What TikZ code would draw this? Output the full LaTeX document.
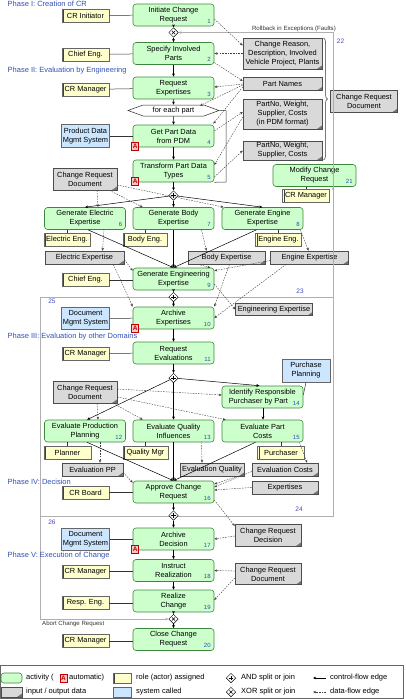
\documentclass[tikz,border=0pt]{standalone}
\usepackage{fontspec}
\setmainfont{Liberation Sans}
\usetikzlibrary{arrows.meta,calc,shapes.geometric,shapes.symbols,decorations.pathreplacing}
\definecolor{actfill}{RGB}{204,255,204}
\definecolor{actdraw}{RGB}{60,135,60}
\definecolor{rolefill}{RGB}{255,255,204}
\definecolor{sysfill}{RGB}{204,230,255}
\definecolor{datafill}{RGB}{217,217,217}
\definecolor{numcol}{RGB}{40,80,170}
\definecolor{phasecol}{RGB}{50,80,180}
\definecolor{regcol}{RGB}{70,70,190}
\definecolor{regline}{RGB}{175,175,175}
\tikzset{
 nbase/.style={font=\fontsize{7.4}{9}\selectfont, align=center, inner sep=1pt},
 act/.style={nbase, draw=actdraw, fill=actfill, rounded corners=3pt, minimum width=81pt, minimum height=22pt, line width=0.6pt},
 role/.style={nbase, draw=black!60, fill=rolefill, minimum width=47pt, minimum height=13pt, line width=0.5pt,
   path picture={\draw[black!75,line width=0.8pt] ([xshift=1.6pt]path picture bounding box.south west) -- ([xshift=1.6pt]path picture bounding box.north west);}},
 sys/.style={nbase, draw=black!60, fill=sysfill, minimum width=48pt, minimum height=22pt, line width=0.5pt},
 datab/.style={nbase, draw=black!70, fill=datafill, minimum width=79pt, minimum height=13pt, line width=0.5pt,
   path picture={\fill[black!55] ([xshift=-5pt]path picture bounding box.south east) -- (path picture bounding box.south east) -- ([yshift=3.5pt]path picture bounding box.south east) -- cycle;}},
 num/.style={font=\fontsize{6}{6}\selectfont, text=numcol, inner sep=0.5pt, anchor=south east},
 amark/.style={draw=red!75!black, fill=red!22, text=red!75!black, font=\fontsize{6.5}{6.5}\selectfont\bfseries, inner sep=0pt, minimum width=7pt, minimum height=8pt, line width=0.5pt},
 gw/.style={diamond, draw=black, fill=white, minimum width=9.5pt, minimum height=9.5pt, inner sep=0pt, line width=0.5pt},
 andgw/.style={gw, path picture={\draw[line width=0.5pt] ([xshift=-2.2pt]path picture bounding box.center) -- ([xshift=2.2pt]path picture bounding box.center) ([yshift=-2.2pt]path picture bounding box.center) -- ([yshift=2.2pt]path picture bounding box.center);}},
 xorgw/.style={gw, path picture={\draw[line width=0.5pt] ([xshift=-1.6pt,yshift=-1.6pt]path picture bounding box.center) -- ([xshift=1.6pt,yshift=1.6pt]path picture bounding box.center) ([xshift=-1.6pt,yshift=1.6pt]path picture bounding box.center) -- ([xshift=1.6pt,yshift=-1.6pt]path picture bounding box.center);}},
 cf/.style={draw=black, line width=0.5pt, -{Stealth[length=3.2pt,width=2.8pt]}},
 df/.style={draw=black!75, line width=0.4pt, dash pattern=on 1.6pt off 1.1pt, -{Stealth[length=3pt,width=2.5pt]}},
 ln/.style={draw=black!80, line width=0.5pt},
 reg/.style={draw=regline, line width=0.6pt},
 regarrow/.style={reg, -{Stealth[length=3.2pt,width=2.8pt]}},
 phaselab/.style={font=\fontsize{7.5}{8}\selectfont, text=phasecol, anchor=west, inner sep=0pt},
 reglab/.style={font=\fontsize{6.5}{6.5}\selectfont, text=regcol, inner sep=0pt},
 smalltxt/.style={font=\fontsize{6.1}{6.5}\selectfont, text=black!80, inner sep=0pt},
 legtxt/.style={font=\fontsize{7.5}{8}\selectfont, anchor=west, inner sep=0pt},
}
\newcommand\actnum[2]{\node[num] (n#2) at ($(#1.south east)+(-3,-2.5)$) {#2};}
\newcommand\automark[1]{\node[amark] (A#1) at ($(#1.south west)+(2.5,-1.5)$) {A};}
\begin{document}
\begin{tikzpicture}[x=1pt,y=-1pt]
\useasboundingbox (0,0) rectangle (406,699);

% region boundaries
\draw[reg] (40,297) -- (333,297);
\draw[reg] (333,297) -- (333,516) -- (40,516);
\draw[reg] (40,297) -- (40,619);

% phase labels
\node[phaselab] (ph1) at (7.5,3.5) {Phase I: Creation of CR};
\node[phaselab] (ph2) at (7.5,71) {Phase II: Evaluation by Engineering};
\node[phaselab] (ph3) at (7.5,336.5) {Phase III: Evaluation by other Domains};
\node[phaselab] (ph4) at (7.5,481.5) {Phase IV: Decision};
\node[phaselab] (ph5) at (7.5,556) {Phase V: Execution of Change};

% region labels
\node[reglab] (g22) at (340.5,41.5) {22};
\node[reglab] (g23) at (300,291) {23};
\node[reglab] (g25) at (52,301) {25};
\node[reglab] (g24) at (299,509) {24};
\node[reglab] (g26) at (52,522) {26};
\node[smalltxt, anchor=base east] (rbtxt) at (336,30.5) {Rollback in Exceptions (Faults)};
\node[smalltxt, anchor=north west] (abtxt) at (42,620.5) {Abort Change Request};

% activities
\node[act] (a1) at (173.5,15) {Initiate Change\\Request}; \actnum{a1}{1}
\node[xorgw] (xor1) at (173.5,32.5) {};
\node[act] (a2) at (173.5,53.5) {Specify Involved\\Parts}; \actnum{a2}{2}
\node[act] (a3) at (173.5,88) {Request\\Expertises}; \actnum{a3}{3}
\node[signal, signal to=west and east, signal pointer angle=40, draw=black!85, fill=white, line width=0.5pt,
      minimum width=91pt, minimum height=11pt, inner sep=0pt, font=\fontsize{7.4}{8}\selectfont] (loop) at (173.5,110.5) {for each part};
\node[act] (a4) at (173.5,136) {Get Part Data\\from PDM}; \actnum{a4}{4} \automark{a4}
\node[act] (a5) at (173.5,171) {Transform Part Data\\Types}; \actnum{a5}{5} \automark{a5}
\node[andgw] (and1) at (173.5,195.5) {};
\node[act] (a6) at (85,218.5) {Generate Electric\\Expertise}; \actnum{a6}{6}
\node[act] (a7) at (173.5,218.5) {Generate Body\\Expertise}; \actnum{a7}{7}
\node[act] (a8) at (262.5,218.5) {Generate Engine\\Expertise}; \actnum{a8}{8}
\node[act] (a9) at (173.5,279) {Generate Engineering\\Expertise}; \actnum{a9}{9}
\node[andgw] (and2) at (173.5,297) {};
\node[act] (a10) at (173.5,318) {Archive\\Expertises}; \actnum{a10}{10} \automark{a10}
\node[act] (a11) at (173.5,353) {Request\\Evaluations}; \actnum{a11}{11}
\node[andgw] (and3) at (173.5,378) {};
\node[act] (a14) at (262.5,397) {Identify Responsible\\Purchaser by Part\phantom{00}}; \actnum{a14}{14}
\node[act] (a12) at (85,431) {Evaluate Production\\Planning}; \actnum{a12}{12}
\node[act] (a13) at (173.5,431) {Evaluate Quality\\Influences}; \actnum{a13}{13}
\node[act] (a15) at (262.5,431) {Evaluate Part\\Costs}; \actnum{a15}{15}
\node[act] (a16) at (173.5,492) {Approve Change\\Request}; \actnum{a16}{16}
\node[andgw] (and4) at (173.5,515.5) {};
\node[act] (a17) at (173.5,539) {Archive\\Decision}; \actnum{a17}{17} \automark{a17}
\node[act] (a18) at (173.5,570.5) {Instruct\\Realization}; \actnum{a18}{18}
\node[act] (a19) at (173.5,601) {Realize\\Change}; \actnum{a19}{19}
\node[xorgw] (xor2) at (173.5,619) {};
\node[act] (a20) at (173.5,639.5) {Close Change\\Request}; \actnum{a20}{20}
\node[act, minimum width=83pt] (a21) at (314.5,175.5) {Modify Change\\Request}; \actnum{a21}{21}

% roles and systems
\node[role] (r1) at (85.5,15.5) {CR Initiator};
\node[role] (r2) at (85.5,54.5) {Chief Eng.};
\node[role] (r3) at (85.5,89.5) {CR Manager};
\node[sys, minimum height=23pt] (s4) at (85.5,136) {Product Data\\Mgmt System};
\node[role, minimum width=46pt] (r6) at (67,239.5) {Electric Eng.};
\node[role, minimum width=44pt] (r7) at (145,239.5) {Body Eng.};
\node[role, minimum width=46pt] (r8) at (278.5,239.5) {Engine Eng.};
\node[role] (r9) at (85.5,280) {Chief Eng.};
\node[sys] (s10) at (85.5,318.5) {Document\\Mgmt System};
\node[role] (r11) at (85.5,353.5) {CR Manager};
\node[sys, minimum height=23pt] (s14) at (306,370.5) {Purchase\\Planning};
\node[role] (r12) at (67.5,453) {Planner};
\node[role, minimum width=45pt] (r13) at (145.5,453) {Quality Mgr};
\node[role] (r15) at (281,453) {Purchaser};
\node[role] (r16) at (85.5,492.5) {CR Board};
\node[sys] (s17) at (85.5,539) {Document\\Mgmt System};
\node[role] (r18) at (85.5,571.5) {CR Manager};
\node[role] (r19) at (85.5,603) {Resp. Eng.};
\node[role] (r20) at (85.5,641) {CR Manager};
\node[role] (r21) at (306,195.5) {CR Manager};

% data objects
\node[datab, minimum height=31pt] (d1) at (282.5,53.5) {Change Reason,\\Description, Involved\\Vehicle Project, Plants};
\node[datab] (d2) at (282.5,84) {Part Names};
\node[datab, minimum height=30pt] (d3) at (282.5,114) {PartNo, Weight,\\Supplier, Costs\\(in PDM format)};
\node[datab, minimum height=19pt] (d4) at (282.5,150.5) {PartNo, Weight,\\Supplier, Costs};
\node[datab, minimum width=67pt, minimum height=22pt] (d5) at (364,101) {Change Request\\Document};
\node[datab, minimum width=64pt, minimum height=22pt] (d6) at (85,179) {Change Request\\Document};
\node[datab] (d7) at (84.5,257.5) {Electric Expertise};
\node[datab, minimum width=77pt] (d8) at (226.5,257.5) {Body Expertise};
\node[datab, minimum width=78pt] (d9) at (309.5,257.5) {Engine Expertise};
\node[datab, minimum width=77pt, minimum height=12pt] (d10) at (274,309.5) {Engineering Expertise};
\node[datab, minimum width=64pt, minimum height=22pt] (d11) at (85,392) {Change Request\\Document};
\node[datab, minimum width=61pt] (d12) at (92.5,469.5) {Evaluation PP};
\node[datab, minimum width=64pt] (d13) at (212,469.5) {Evaluation Quality};
\node[datab, minimum width=66pt] (d14) at (285,469.5) {Evaluation Costs};
\node[datab, minimum width=66pt] (d15) at (285,487.5) {Expertises};
\node[datab, minimum width=66pt, minimum height=22pt] (d16) at (268,535) {Change Request\\Decision};
\node[datab, minimum width=66pt, minimum height=21pt] (d17) at (268,574) {Change Request\\Document};

% brace
\draw[black!80, line width=0.5pt, decorate, decoration={brace, amplitude=4pt}] (323.5,38) -- (323.5,160);

% region flow arrows
\draw[regarrow] (333,297) -- (333,187);
\draw[regarrow] (333,190) -- (333,32.5) -- (xor1.east);
\draw[regarrow] (40,619) -- (xor2.west);

% control flow
\draw[cf] (a1) -- (xor1);
\draw[cf] (xor1) -- (a2);
\draw[cf] (a2) -- (a3);
\draw[cf] (a3) -- (loop);
\draw[cf] (loop) -- (a4);
\draw[cf] (a4) -- (a5);
\draw[cf] (a5) -- (and1);
\draw[cf] (and1) -- (a6.north);
\draw[cf] (and1) -- (a7);
\draw[cf] (and1) -- (a8.north);
\draw[cf] ($(a6.south)+(3,0)$) -- (a9.north);
\draw[cf] (a7) -- (a9);
\draw[cf] ($(a8.south)+(-6,0)$) -- (a9.north);
\draw[cf] (a9) -- (and2);
\draw[cf] (and2) -- (a10);
\draw[cf] (a10) -- (a11);
\draw[cf] (a11) -- (and3);
\draw[cf] (and3) -- ($(a12.north)+(2,0)$);
\draw[cf] (and3) -- (a13);
\draw[cf] (and3) -- ($(a14.north)+(-3,0)$);
\draw[cf] ($(a14.south)+(0.5,0)$) -- ($(a15.north)+(0.5,0)$);
\draw[cf] ($(a12.south)+(2,0)$) -- (a16.north);
\draw[cf] (a13) -- (a16);
\draw[cf] ($(a15.south)+(-7,0)$) -- (a16.north);
\draw[cf] (a16) -- (and4);
\draw[cf] (and4) -- (a17);
\draw[cf] (a17) -- (a18);
\draw[cf] (a18) -- (a19);
\draw[cf] (a19) -- (xor2);
\draw[cf] (xor2) -- (a20);

% loop bracket
\draw[ln] (a5.south east) -- (226,182) -- (226,110.5) -- (loop.east);

% role / system links
\draw[ln] (r1) -- (a1);
\draw[ln] (r2) -- (a2);
\draw[ln] (r3) -- (a3);
\draw[ln] (s4) -- (a4);
\draw[ln] (r6.north) -- (r6.north |- a6.south);
\draw[ln] (r7.north) -- (r7.north |- a7.south);
\draw[ln] (r8.north) -- (r8.north |- a8.south);
\draw[ln] (r9) -- (r9 -| a9.west);
\draw[ln] (s10) -- (a10);
\draw[ln] (r11) -- (a11);
\draw[ln] (s14.south) -- ($(a14.east)+(0,-2)$);
\draw[ln] (r12.north) -- (r12.north |- a12.south);
\draw[ln] (r13.north) -- (r13.north |- a13.south);
\draw[ln] (r15.north) -- (r15.north |- a15.south);
\draw[ln] (r16) -- (r16 -| a16.west);
\draw[ln] (s17) -- (a17);
\draw[ln] (r18) -- (r18 -| a18.west);
\draw[ln] (r19) -- (r19 -| a19.west);
\draw[ln] (r20) -- (r20 -| a20.west);
\draw[ln] (r21.north) -- (r21.north |- a21.south);

% data flow
\draw[df] ($(a1.east)+(0,4)$) -- ($(d1.west)+(0,-8)$);
\draw[df] (d1.west) -- (a2.east);
\draw[df] ($(a2.east)+(0,9)$) -- ($(d2.west)+(0,-3)$);
\draw[df] (d2.west) -- ($(a3.east)+(0,-1)$);
\draw[df] ($(d2.west)+(0,1)$) -- ($(loop.north east)+(-4,1)$);
\draw[df] ($(d2.west)+(0,3)$) -- ($(a4.north east)+(-1,-1)$);
\draw[df] ($(a4.east)+(0,-5)$) -- ($(d3.west)+(0,-2)$);
\draw[df] ($(d3.west)+(0,3)$) -- ($(a5.east)+(0,-6)$);
\draw[df] ($(a5.east)+(0,6)$) -- (d4.west);
\draw[df] ($(d6.south)+(12,0)$) -- ($(a6.north)+(13,0)$);
\draw[df] ($(d6.south east)+(-8,0)$) -- ($(a7.north west)+(10,0)$);
\draw[df] ($(d6.east)+(0,6)$) -- ($(a8.north west)+(2,0)$);
\draw[df] ($(a6.south)+(19,0)$) -- ($(d7.north)+(18,0)$);
\draw[df] ($(a7.south)+(28,0)$) -- ($(d8.north)+(-20,0)$);
\draw[df] ($(a8.south)+(38,0)$) -- ($(d9.north)+(-1,0)$);
\draw[df] ($(d7.east)+(0,2)$) -- ($(a9.north west)+(0,3)$);
\draw[df] ($(d7.south east)+(-11,0)$) -- (a10.north west);
\draw[df] ($(d8.south west)+(10,0)$) -- ($(a9.north east)+(-4,0)$);
\draw[df] ($(d9.west)+(0,3)$) -- ($(a9.north east)+(0,3)$);
\draw[df] ($(d8.south)+(3,0)$) -- (a10.north east);
\draw[df] ($(d9.south west)+(16,0)$) -- (a10.east);
\draw[df] ($(a9.east)+(0,5)$) -- (d10.west);
\draw[df] ($(d11.south)+(12,0)$) -- ($(a12.north)+(13,0)$);
\draw[df] ($(d11.south east)+(-4,0)$) -- ($(a13.north west)+(10,0)$);
\draw[df] ($(d11.east)+(0,-3)$) -- ($(a14.west)+(0,-2)$);
\draw[df] ($(d11.east)+(0,5)$) -- ($(a15.north west)+(4,0)$);
\draw[df] ($(a12.south)+(15,0)$) -- ($(d12.north)+(7.5,0)$);
\draw[df] ($(a13.south)+(28,0)$) -- ($(d13.north)+(-10,0)$);
\draw[df] ($(a15.south)+(37,0)$) -- ($(d14.north)+(22,0)$);
\draw[df] ($(d12.east)+(0,3)$) -- ($(a16.north west)+(0,2)$);
\draw[df] ($(d13.south east)+(-6,0)$) -- ($(a16.east)+(0,-8)$);
\draw[df] ($(d14.west)+(0,2)$) -- ($(a16.east)+(0,-5)$);
\draw[df] (d15.west) -- ($(a16.east)+(0,-2)$);
\draw[df] ($(a16.east)+(0,8)$) -- ($(d16.west)+(0,-9)$);
\draw[df] ($(d16.west)+(0,1)$) -- (a17.east);
\draw[df] ($(d17.west)+(0,-3)$) -- (a18.east);
\draw[df] ($(d17.west)+(0,4)$) -- ($(a19.east)+(0,-1)$);

% legend
\draw[black!60, line width=0.5pt] (0.4,665) rectangle (403.5,698.6);
\node[act, minimum width=21pt, minimum height=10pt] (lg1) at (11.5,678) {};
\node[legtxt] (lt1) at (26,678) {activity (};
\node[amark] (lgA) at (63.5,678) {A};
\node[legtxt] (lt1b) at (69,678) {automatic)};
\node[role, minimum width=18pt, minimum height=10pt] (lg2) at (122,678) {};
\node[legtxt] (lt2) at (136,678) {role (actor) assigned};
\node[andgw] (lg3) at (231,678) {};
\node[legtxt] (lt3) at (241,678) {AND split or join};
\coordinate (lc1a) at (326,678); \coordinate (lc1b) at (313,678);
\draw[cf] (lc1a) -- (lc1b);
\node[legtxt] (lt4) at (330,678) {control-flow edge};
\node[datab, minimum width=21pt, minimum height=10pt] (lg5) at (11.5,692) {};
\node[legtxt] (lt5) at (26,692) {input / output data};
\node[sys, minimum width=18pt, minimum height=10pt] (lg6) at (122,692) {};
\node[legtxt] (lt6) at (136,692) {system called};
\node[xorgw] (lg7) at (231,692) {};
\node[legtxt] (lt7) at (241,692) {XOR split or join};
\coordinate (lc2a) at (326,692); \coordinate (lc2b) at (313,692);
\draw[df] (lc2a) -- (lc2b);
\node[legtxt] (lt8) at (330,692) {data-flow edge};
\end{tikzpicture}
\end{document}
